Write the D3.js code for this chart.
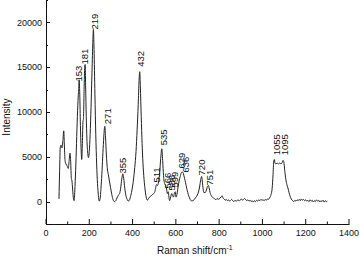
<!DOCTYPE html>
<html>
<head>
<meta charset="utf-8">
<script src="https://cdn.jsdelivr.net/npm/d3@7"></script>
<style>
  body { margin: 0; background: #fff; }
  svg text { font-family: "Liberation Sans", Arial, sans-serif; fill: #111; }
</style>
</head>
<body>
<svg id="chart" width="360" height="259"></svg>
<script>
// spectrum (cm-1 / counts)
var shift = [60,63,66,70,74,78,82,85,88,92,97,103,107,111,114,117,120,123,127,130,
  133,137,141,145,149,151,153,156,159,162,165,168,171,173,176,179,181,183,186,189,
  193,196,200,204,208,212,216,219,222,226,230,234,238,242,246,250,254,258,262,266,
  270,272,275,279,283,288,293,298,304,310,316,322,328,334,340,345,350,355,359,364,
  369,375,380,386,392,398,404,410,416,421,426,430,433,436,440,444,448,453,458,463,
  468,473,478,483,488,493,498,503,507,511,515,520,525,530,535,539,543,548,553,557,
  561,565,568,571,575,581,585,589,593,597,601,605,610,615,620,625,630,635,640,645,
  650,655,660,666,672,678,684,690,696,702,707,712,716,719,722,726,730,735,740,745,
  750,754,758,763,768,774,780,785,790,795,800,805,810,814,818,823,828,833,838,843,
  848,853,858,863,868,873,878,883,888,893,898,903,908,913,918,923,928,933,938,943,
  948,953,958,963,968,973,978,983,988,993,998,1003,1008,1013,1018,1023,1028,1032,1035,1040,
  1045,1049,1052,1055,1058,1062,1068,1074,1080,1086,1090,1095,1099,1103,1108,1113,1118,1123,1128,1133,
  1140,1145,1150,1155,1160,1165,1170,1175,1180,1185,1190,1195,1200,1205,1210,1215,1220,1225,1230,1235,
  1240,1245,1250,1255,1260,1265,1270,1275,1280,1285,1290,1295,1300];
var intensity = [300,3500,6100,6300,6000,6800,7900,6200,4600,4200,4000,3700,4600,5400,4500,2600,2300,1400,300,100,
  1200,3500,6500,9500,11800,12500,13600,12000,8500,6000,4700,6500,9000,9200,12500,15000,15300,13000,9500,7000,
  5400,4900,5600,7500,10500,14000,17500,19200,17000,12000,7500,4200,2000,700,50,300,1500,3000,5000,6800,
  8200,8400,7200,5200,3800,3000,2300,1600,800,200,0,100,400,700,900,1500,2500,3100,2600,1500,
  700,250,50,200,700,1400,2400,3800,5600,8000,10800,13500,14500,12800,9500,6500,4300,2500,1300,500,
  150,300,500,600,700,800,900,1100,1600,1900,1800,2200,3200,4800,5900,4600,2900,2000,1800,1400,
  900,1100,500,100,400,900,700,500,900,1100,500,800,1600,2300,2800,3200,3300,3100,2600,2100,
  1500,1000,600,250,80,100,200,400,600,900,1300,2000,2600,2800,2300,1400,1000,1000,1200,1600,
  1800,1500,1000,700,500,400,300,200,350,250,300,400,550,650,400,300,150,250,100,200,
  50,150,250,100,0,150,50,100,200,50,200,300,150,250,350,200,100,200,50,150,
  0,100,-50,100,0,150,50,200,100,250,150,200,100,250,150,300,250,400,500,800,
  1500,3000,4400,4700,4300,4200,4300,4200,4300,4200,4300,4600,4400,3500,2500,1900,1500,1000,600,300,
  100,0,150,50,200,100,250,100,300,150,250,100,200,50,150,0,200,50,150,-50,
  100,0,200,50,150,-50,100,0,150,-50,100,0,50];

// peak labels: text, centre (cm-1), foot of the label (counts)
var peakText = ["153","181","219","271","355","432","511","535","566","586","599","629","636","720","751","1055","1095"];
var peakX = [148,180,222,284,354,437,512,542,562,578,596,624,644,719,754,1063,1102];
var peakY = [13400,15300,19200,8640,3140,15040,2130,6280,1460,1230,1570,3700,3250,2920,1800,5160,5160];

var xTicks = [0,200,400,600,800,1000,1200,1400];
var yTicks = [0,5000,10000,15000,20000];

var svg = d3.select("#chart");
var x = d3.scaleLinear().domain([0, 1400]).range([46, 349]);
var y = d3.scaleLinear().domain([-2500, 22500]).range([224, 0]);

// axes, ticks point inward
var xMinor = d3.range(0, 1401, 100);
svg.append("g").selectAll("line").data(xMinor).enter().append("line")
  .attr("x1", function(d) { return x(d); }).attr("x2", function(d) { return x(d); })
  .attr("y1", 224).attr("y2", function(d) { return d % 200 == 0 ? 219 : 221.5; })
  .attr("stroke", "#111").attr("stroke-width", 1);
var yMinor = d3.range(-2500, 22501, 2500);
svg.append("g").selectAll("line").data(yMinor).enter().append("line")
  .attr("y1", function(d) { return Math.round(y(d)) + 0.5; }).attr("y2", function(d) { return Math.round(y(d)) + 0.5; })
  .attr("x1", 46).attr("x2", function(d) { return d % 5000 == 0 ? 50 : 48; })
  .attr("stroke", "#111").attr("stroke-width", 1);

svg.append("line").attr("x1", 46).attr("x2", 349.5).attr("y1", 224.5).attr("y2", 224.5)
  .attr("stroke", "#111").attr("stroke-width", 1);
svg.append("line").attr("x1", 46.5).attr("x2", 46.5).attr("y1", 0).attr("y2", 224.5)
  .attr("stroke", "#111").attr("stroke-width", 1);

svg.append("g").selectAll("text").data(xTicks).enter().append("text")
  .attr("x", function(d) { return x(d); }).attr("y", 236)
  .attr("text-anchor", "middle").attr("font-size", 9)
  .text(function(d) { return d; });
svg.append("g").selectAll("text").data(yTicks).enter().append("text")
  .attr("x", 42).attr("y", function(d) { return y(d) + 3.2; })
  .attr("text-anchor", "end").attr("font-size", 9)
  .text(function(d) { return d; });

// titles
var xt = svg.append("text").attr("x", 157).attr("y", 254).attr("font-size", 10);
xt.append("tspan").text("Raman shift/cm");
xt.append("tspan").attr("dy", -4).attr("font-size", 7).text("-1");
svg.append("text").attr("transform", "translate(10,117) rotate(-90)")
  .attr("text-anchor", "middle").attr("font-size", 10).text("Intensity");

// spectrum
var pts = shift.map(function(s, i) { return [s, intensity[i]]; });
var line = d3.line()
  .x(function(d) { return x(d[0]); })
  .y(function(d) { return y(d[1]); })
  .curve(d3.curveMonotoneX);
svg.append("path").datum(pts).attr("d", line)
  .attr("fill", "none").attr("stroke", "#222").attr("stroke-width", 1);

// peak labels
svg.append("g").selectAll("text").data(peakText).enter().append("text")
  .attr("transform", function(d, i) {
    return "translate(" + (x(peakX[i]) + 3.5) + "," + y(peakY[i]) + ") rotate(-90)";
  })
  .attr("font-size", 9.5)
  .text(function(d) { return d; });
</script>
</body>
</html>
